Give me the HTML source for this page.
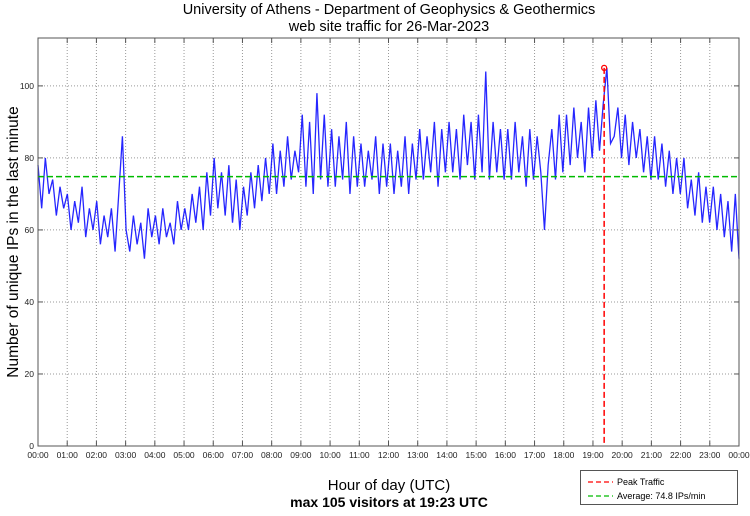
<!DOCTYPE html>
<html><head><meta charset="utf-8"><style>
body{margin:0;background:#fff;}
svg text{font-family:"Liberation Sans",sans-serif;}
</style></head><body>
<svg width="750" height="511" viewBox="0 0 750 511">
<text x="389" y="14" font-size="14.5" text-anchor="middle">University of Athens - Department of Geophysics &amp; Geothermics</text>
<text x="389" y="31" font-size="14.5" text-anchor="middle">web site traffic for 26-Mar-2023</text>
<g id="grid"></g>
<g id="series"></g>
<rect x="38" y="38" width="701" height="408" fill="none" stroke="#555" stroke-width="1"/>
<g id="ticks"></g>
<text transform="translate(18,242) rotate(-90)" font-size="15.5" text-anchor="middle">Number of unique IPs in the last minute</text>
<text x="389" y="490" font-size="15" text-anchor="middle">Hour of day (UTC)</text>
<text x="389" y="507" font-size="14" font-weight="bold" text-anchor="middle">max 105 visitors at 19:23 UTC</text>
<g>
<rect x="580.5" y="470.5" width="157" height="34" fill="#fff" stroke="#555"/>
<line x1="588" y1="482" x2="613" y2="482" stroke="#f00" stroke-width="1.3" stroke-dasharray="5,3"/>
<text x="617" y="485" font-size="9">Peak Traffic</text>
<line x1="588" y1="496" x2="613" y2="496" stroke="#0b0" stroke-width="1.3" stroke-dasharray="5,3"/>
<text x="617" y="499" font-size="9">Average: 74.8 IPs/min</text>
</g>
</svg>
<script>
const xTickLabels=["00:00","01:00","02:00","03:00","04:00","05:00","06:00","07:00","08:00","09:00","10:00","11:00","12:00","13:00","14:00","15:00","16:00","17:00","18:00","19:00","20:00","21:00","22:00","23:00","00:00"];
const yTicks=[0,20,40,60,80,100];
const values=[
78,66,80,70,74,64,72,66, 70,60,68,62,72,58,66,60, 68,56,64,58,66,54,70,86, 60,54,64,56,62,52,66,58,
64,56,66,58,62,56,68,60, 66,60,70,62,72,60,76,64, 80,66,76,64,78,62,74,60, 72,64,76,66,78,68,80,70,
84,70,82,72,86,74,82,76, 92,72,90,70,98,74,92,72, 88,72,86,74,90,70,86,72, 84,72,82,74,86,70,84,72,
84,70,82,72,86,70,84,74, 88,74,86,76,90,72,88,76, 90,76,88,74,92,78,90,74, 92,76,104,74,90,76,88,74,
88,74,90,76,86,72,88,74, 86,76,60,78,88,74,92,76, 92,78,94,80,90,76,94,80, 96,82,95,105,84,86,94,80,
92,78,90,80,88,76,86,74, 86,74,84,72,82,70,80,70, 80,66,74,64,76,62,72,62, 72,60,70,58,68,54,70,52];
const average=[74.8];
const peak=[19+23/60,105];
const NS="http://www.w3.org/2000/svg";
const L=38,R=739,T=38,B=446,YMAX=113.3;
const xS=h=>L+(R-L)*h/24;
const yS=v=>B-(B-T)*v/YMAX;
function mk(tag,attrs,parent){const e=document.createElementNS(NS,tag);for(const k in attrs)e.setAttribute(k,attrs[k]);parent.appendChild(e);return e;}
const grid=document.getElementById('grid'),ticks=document.getElementById('ticks'),series=document.getElementById('series');
xTickLabels.forEach((lab,i)=>{const x=xS(i);
 if(i>0&&i<24){const g=mk('line',{x1:x,x2:x,y1:T,y2:B,stroke:'#999','stroke-dasharray':'1,2','stroke-width':1},grid);
 
 }
 const t1=mk('line',{x1:x,x2:x,y1:B,y2:B-5,stroke:'#555'},ticks);
 
 
 const t2=mk('line',{x1:x,x2:x,y1:T,y2:T+5,stroke:'#555'},ticks);
 
 
 const tx=mk('text',{x:x,y:B+12,'font-size':8.5,'text-anchor':'middle',fill:'#222'},ticks);tx.textContent=lab;
 
 
});
yTicks.forEach(v=>{const y=yS(v);
 if(v>0){const g=mk('line',{x1:L,x2:R,y1:y,y2:y,stroke:'#999','stroke-dasharray':'1,2'},grid);
 
 }
 const t=mk('line',{x1:L,x2:L+5,y1:y,y2:y,stroke:'#555'},ticks);
 
 
 const t2=mk('line',{x1:R-5,x2:R,y1:y,y2:y,stroke:'#555'},ticks);
 
 
 const tx=mk('text',{x:L-4,y:y+3,'font-size':8.5,'text-anchor':'end',fill:'#222'},ticks);tx.textContent=v;
 
 
});
const n=values.length;
const pts=values.map((v,i)=>xS(i*24/(n-1))+','+yS(v)).join(' ');
const pl=mk('polyline',{points:pts,fill:'none',stroke:'#0000ff','stroke-width':1.3,'stroke-opacity':0.85,'stroke-linejoin':'miter'},series);


const av=mk('line',{x1:L,x2:R,y1:yS(average[0]),y2:yS(average[0]),stroke:'#0b0','stroke-width':1.5,'stroke-dasharray':'6,3'},series);


const pk=mk('line',{x1:xS(peak[0]),x2:xS(peak[0]),y1:yS(peak[1]),y2:B,stroke:'#f00','stroke-width':1.5,'stroke-dasharray':'6,3'},series);


const pc=mk('circle',{cx:xS(peak[0]),cy:yS(peak[1]),r:2.5,fill:'none',stroke:'#f00','stroke-width':1.3},series);


</script>
</body></html>
